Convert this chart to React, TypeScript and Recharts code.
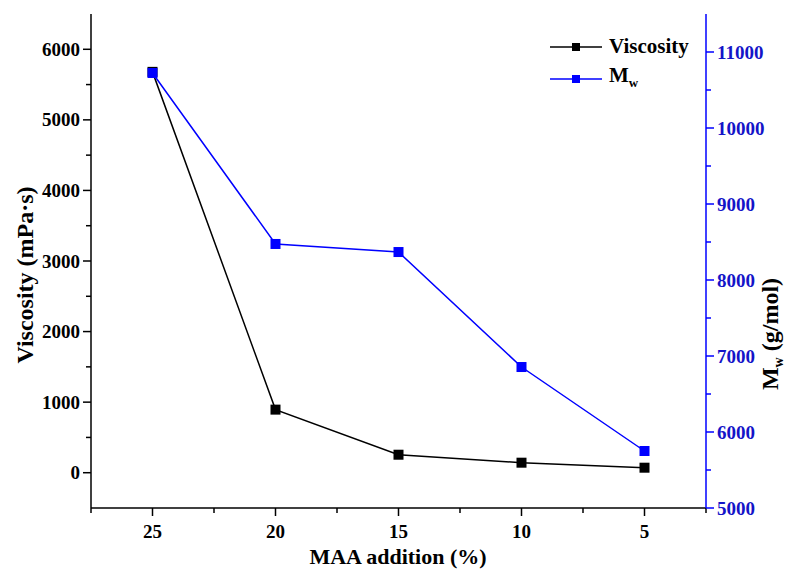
import React from 'react';
import {
  ComposedChart,
  Line,
  XAxis,
  YAxis,
} from 'recharts';

const maaLevels = [25, 20, 15, 10, 5];
const viscosity = [5680, 894, 255, 142, 71];
const molWeight = [10724, 8474, 8368, 6855, 5750];

const xTicks = [27.5, 25, 22.5, 20, 17.5, 15, 12.5, 10, 7.5, 5, 2.5];
const leftTicks = [-500, 0, 500, 1000, 1500, 2000, 2500, 3000, 3500, 4000, 4500, 5000, 5500, 6000, 6500];
const rightTicks = [5000, 5500, 6000, 6500, 7000, 7500, 8000, 8500, 9000, 9500, 10000, 10500, 11000, 11500];

const data = maaLevels.map((m, i) => ({ maa: m, viscosity: viscosity[i], mw: molWeight[i] }));

const FONT = "'Liberation Serif', Tinos, 'DejaVu Serif', serif";
const BLUE = '#0000ff';
const BLUE_TEXT = '#1414c8';

const LeftTick = (props: any) => {
  const { x, y, payload } = props;
  const v = payload.value;
  if (v < 0 || v > 6000) return null;
  const major = v % 1000 === 0;
  return (
    <g>
      <line x1={x} x2={x - (major ? 8 : 5)} y1={y} y2={y} stroke="#000" strokeWidth={1.5} />
      {major && (
        <text x={x - 11} y={y + 6.5} textAnchor="end" style={{ fontFamily: FONT }} fontWeight="bold" fontSize={19} fill="#000">
          {v}
        </text>
      )}
    </g>
  );
};

const RightTick = (props: any) => {
  const { x, y, payload } = props;
  const v = payload.value;
  if (v > 11000) return null;
  const major = v % 1000 === 0;
  return (
    <g>
      <line x1={x} x2={x + (major ? 8 : 5)} y1={y} y2={y} stroke={BLUE} strokeWidth={1.5} />
      {major && (
        <text x={x + 11} y={y + 6.5} textAnchor="start" style={{ fontFamily: FONT }} fontWeight="bold" fontSize={19} fill={BLUE_TEXT}>
          {v}
        </text>
      )}
    </g>
  );
};

const BottomTick = (props: any) => {
  const { x, y, payload } = props;
  const v = payload.value;
  const major = v % 5 === 0;
  return (
    <g>
      <line x1={x} x2={x} y1={y} y2={y + (major ? 8 : 5)} stroke="#000" strokeWidth={1.5} />
      {major && (
        <text x={x} y={y + 30} textAnchor="middle" style={{ fontFamily: FONT }} fontWeight="bold" fontSize={19} fill="#000">
          {v}
        </text>
      )}
    </g>
  );
};

const TopTick = (props: any) => {
  const { x, y, payload } = props;
  const major = payload.value % 5 === 0;
  return <line x1={x} x2={x} y1={y} y2={y + (major ? 8 : 5)} stroke="#000" strokeWidth={1.5} />;
};

const squareDot = (color: string) => (props: any) => {
  const { cx, cy, index } = props;
  return <rect key={`d-${color}-${index}`} x={cx - 5} y={cy - 5} width={10} height={10} fill={color} />;
};

const LegendIcon = ({ color }: { color: string }) => (
  <svg width={54} height={12} style={{ marginRight: 6 }}>
    <line x1={1} x2={53} y1={6} y2={6} stroke={color} strokeWidth={1.5} />
    <rect x={23} y={2} width={8} height={8} fill={color} />
  </svg>
);

// legend drawn as an overlay so it doesn't eat into the plot area
const ChartLegend = () => (
  <div
    style={{
      position: 'absolute',
      left: 549,
      top: 32,
      fontFamily: FONT,
      fontWeight: 'bold',
      fontSize: 21,
      color: '#000',
      lineHeight: '29px',
    }}
  >
    <div style={{ display: 'flex', alignItems: 'center' }}>
      <LegendIcon color="#000" />
      <span>Viscosity</span>
    </div>
    <div style={{ display: 'flex', alignItems: 'center' }}>
      <LegendIcon color={BLUE} />
      <span>
        M<sub style={{ fontSize: 13 }}>w</sub>
      </span>
    </div>
  </div>
);

export default function App() {
  return (
    <div style={{ position: 'absolute', left: 0, top: 0, width: 786, height: 570, background: '#fff' }}>
      <ComposedChart width={786} height={570} data={data} margin={{ top: 14, right: 0, bottom: 0, left: 0 }}>
        <XAxis
          xAxisId="x"
          dataKey="maa"
          type="number"
          domain={[2.5, 27.5]}
          reversed
          ticks={xTicks}
          interval={0}
          height={62}
          tickSize={0}
          tickMargin={0}
          tickLine={false}
          tick={<BottomTick />}
          axisLine={{ stroke: '#000', strokeWidth: 1.5 }}
          label={{
            content: () => (
              <text x={398} y={564} textAnchor="middle" style={{ fontFamily: FONT }} fontWeight="bold" fontSize={22} fill="#000">
                MAA addition (%)
              </text>
            ),
          }}
        />
        <XAxis
          xAxisId="top"
          orientation="top"
          type="number"
          domain={[2.5, 27.5]}
          reversed
          ticks={xTicks}
          interval={0}
          height={0}
          tickSize={0}
          tickMargin={0}
          tickLine={false}
          tick={<TopTick />}
          axisLine={{ stroke: '#000', strokeWidth: 1.5 }}
          allowDataOverflow
        />
        <YAxis
          yAxisId="left"
          domain={[-500, 6500]}
          ticks={leftTicks}
          interval={0}
          width={91}
          tickSize={0}
          tickMargin={0}
          tickLine={false}
          tick={<LeftTick />}
          axisLine={{ stroke: '#000', strokeWidth: 1.5 }}
          allowDataOverflow
          label={{
            content: () => (
              <text
                x={25}
                y={275}
                transform="rotate(-90 25 275)"
                dy={8}
                textAnchor="middle"
                style={{ fontFamily: FONT }}
                fontWeight="bold"
                fontSize={24}
                fill="#000"
              >
                Viscosity (mPa·s)
              </text>
            ),
          }}
        />
        <YAxis
          yAxisId="right"
          orientation="right"
          domain={[5000, 11500]}
          ticks={rightTicks}
          interval={0}
          width={80}
          tickSize={0}
          tickMargin={0}
          tickLine={false}
          tick={<RightTick />}
          axisLine={{ stroke: BLUE, strokeWidth: 1.5 }}
          allowDataOverflow
          label={{
            content: () => (
              <text
                x={771}
                y={334}
                transform="rotate(-90 771 334)"
                dy={7}
                textAnchor="middle"
                style={{ fontFamily: FONT }}
                fontWeight="bold"
                fontSize={24}
                fill="#000"
              >
                M<tspan fontSize={14} dy={5}>w</tspan>
                <tspan dy={-5}> (g/mol)</tspan>
              </text>
            ),
          }}
        />
        <Line
          xAxisId="x"
          yAxisId="left"
          type="linear"
          dataKey="viscosity"
          stroke="#000"
          strokeWidth={1.5}
          dot={squareDot('#000')}
          isAnimationActive={false}
        />
        <Line
          xAxisId="x"
          yAxisId="right"
          type="linear"
          dataKey="mw"
          stroke={BLUE}
          strokeWidth={1.5}
          dot={squareDot(BLUE)}
          isAnimationActive={false}
        />
      </ComposedChart>
      <ChartLegend />
    </div>
  );
}
